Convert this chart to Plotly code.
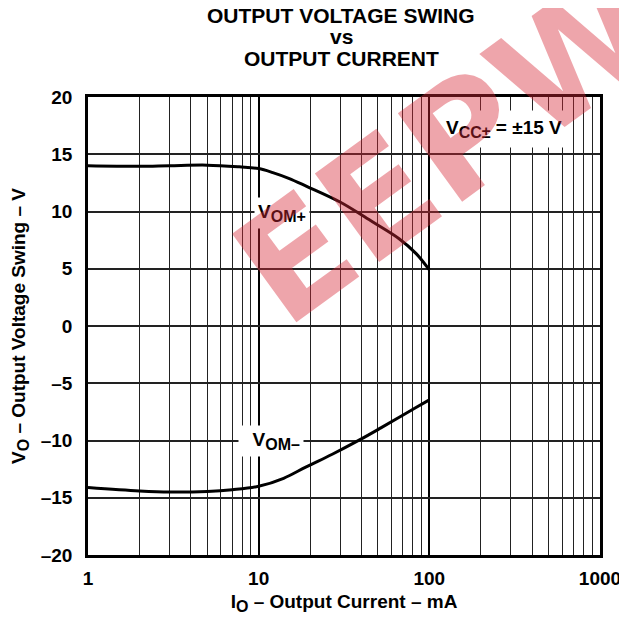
import plotly.graph_objects as go

# Datos
io_pos = [1, 2, 3, 5, 7.7, 10, 12.1, 15, 19.1, 29.8, 46.4, 66.8, 84, 100]
vom_pos = [14.0, 13.95, 14.0, 14.05, 13.9, 13.75, 13.4, 12.9, 12.2, 10.85, 9.1, 7.6, 6.3, 4.9]

io_neg = [1, 2, 3, 5, 7, 10, 14, 19, 27, 39, 52, 67, 84, 100]
vom_neg = [-14.1, -14.4, -14.5, -14.45, -14.3, -14.0, -13.3, -12.3, -11.2, -9.95, -8.9, -7.95, -7.1, -6.45]

x_major = [1, 10, 100, 1000]
x_major_text = ["1", "10", "100", "1000"]
x_minor = [m * d for d in (1, 10, 100) for m in range(2, 10)]

y_ticks = [-20, -15, -10, -5, 0, 5, 10, 15, 20]
y_text = ["\u201320", "\u201315", "\u201310", "\u20135", "0", "5", "10", "15", "20"]

title_lines = ["OUTPUT VOLTAGE SWING", "vs", "OUTPUT CURRENT"]

FONT = "Liberation Sans, Arial, sans-serif"
SUB = "<sub><span style='font-size:16px'>{}</span></sub>"

fig = go.Figure()

fig.add_trace(go.Scatter(x=io_pos, y=vom_pos, mode="lines", line=dict(color="black", width=3, shape="spline"),
                         showlegend=False, hoverinfo="skip"))
fig.add_trace(go.Scatter(x=io_neg, y=vom_neg, mode="lines", line=dict(color="black", width=3, shape="spline"),
                         showlegend=False, hoverinfo="skip"))

# la página tiene 8px de margen en el body, se compensa aquí
fig.update_layout(
    width=627, height=618,
    margin=dict(l=80, r=35, t=89, b=71),
    paper_bgcolor="white", plot_bgcolor="white",
    font=dict(family=FONT, color="black"),
    xaxis=dict(
        type="log", range=[0, 3], automargin=False,
        tickmode="array", tickvals=x_major, ticktext=x_major_text,
        tickfont=dict(size=19, weight="bold"),
        showgrid=True, gridcolor="black", gridwidth=2,
        minor=dict(tickmode="array", tickvals=x_minor, showgrid=True, gridcolor="#222", gridwidth=1, ticks=""),
        showline=True, linecolor="black", linewidth=2.5, mirror=True,
        ticks="", zeroline=False, ticklabelstandoff=4,
        title=dict(text="I" + SUB.format("O") + " \u2013 Output Current \u2013 mA",
                   font=dict(size=19, weight="bold"), standoff=8),
    ),
    yaxis=dict(
        range=[-20, 20], automargin=False,
        tickmode="array", tickvals=y_ticks, ticktext=y_text,
        tickfont=dict(size=19, weight="bold"),
        showgrid=True, gridcolor="#222", gridwidth=1.5,
        showline=True, linecolor="black", linewidth=2.5, mirror=True,
        ticks="", zeroline=False, ticklabelstandoff=9,
        title=dict(text="V" + SUB.format("O") + " \u2013 Output Voltage Swing \u2013 V",
                   font=dict(size=19, weight="bold"), standoff=16),
    ),
)

# Título en tres líneas
for txt, yy in zip(title_lines, [1.179, 1.133, 1.085]):
    fig.add_annotation(xref="paper", yref="paper", x=0.495, y=yy, yanchor="middle", text=txt,
                       showarrow=False, font=dict(size=21, weight="bold"))

# Etiquetas de las curvas
fig.add_annotation(x=1.134, y=9.87, text="V" + SUB.format("OM+"), showarrow=False, bgcolor="white",
                   font=dict(size=19, weight="bold"), borderpad=3)
fig.add_annotation(x=1.075, y=-10.0, text="&nbsp;&nbsp;V" + SUB.format("OM\u2013"), showarrow=False, bgcolor="white",
                   font=dict(size=19, weight="bold"), borderpad=3)
fig.add_annotation(x=2.44, y=17.2, text="V" + SUB.format("CC\u00b1") + " = \u00b115 V", showarrow=False,
                   bgcolor="white", font=dict(size=19, weight="bold"), borderpad=6)

# Marca de agua
fig.add_annotation(xref="paper", yref="paper", x=0.705, y=0.89, xanchor="center", yanchor="middle",
                   text="EEPW", showarrow=False, textangle=-36,
                   font=dict(family="DejaVu Sans", size=150, weight="bold", color="rgba(215,40,55,0.42)"))

fig.write_html("out.html")
